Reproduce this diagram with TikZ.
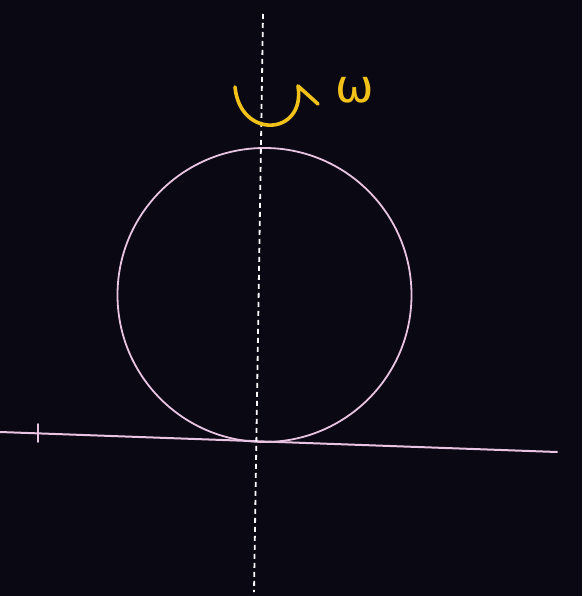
\documentclass[tikz,border=0pt]{standalone}
\usepackage{fontspec}
\newfontfamily\lblfont{DejaVu Sans}
\usetikzlibrary{arrows.meta}
\definecolor{board}{HTML}{0A0812}
\definecolor{chalkpink}{HTML}{E9C4E2}
\definecolor{chalkyellow}{HTML}{F2C21B}

\begin{document}
\begin{tikzpicture}[x=1pt,y=-1pt,
  wheel/.style={draw=chalkpink,line width=1.8pt},
  ground/.style={draw=chalkpink,line width=2pt,line cap=round},
  axis/.style={draw=white!90!chalkpink,line width=1.8pt,dash pattern=on 5pt off 4pt},
  spin/.style={draw=chalkyellow,line width=3.6pt,line cap=round,line join=round},
  lbl/.style={text=chalkyellow,font=\lblfont\fontsize{46}{46}\selectfont,inner sep=0pt}
]
  % board
  \fill[board] (0,0) rectangle (582,596);
  \useasboundingbox (0,0) rectangle (582,596);
  % rolling disc and floor
  \coordinate (c) at (264.5,295);
  \draw[wheel] (c) circle (147);
  \coordinate (gl) at (0,432);
  \coordinate (gr) at (557,452);
  \draw[ground] (gl) -- (gr);
  \coordinate (tt) at (38,424);
  \coordinate (tb) at (38,442);
  \draw[ground,line width=1.8pt] (tt) -- (tb);
  % rotation axis
  \coordinate (at) at (263,14);
  \coordinate (ab) at (254,592);
  \draw[axis] (at) -- (ab);
  % angular velocity
  \coordinate (s0) at (235,87);
  \coordinate (s1) at (298,86);
  \coordinate (s2) at (318,104);
  \draw[spin] (s0) .. controls (240,140) and (306,136) .. (s1) -- (s2);
  \node[lbl] (w) at (355,90) {ω};
\end{tikzpicture}
\end{document}
